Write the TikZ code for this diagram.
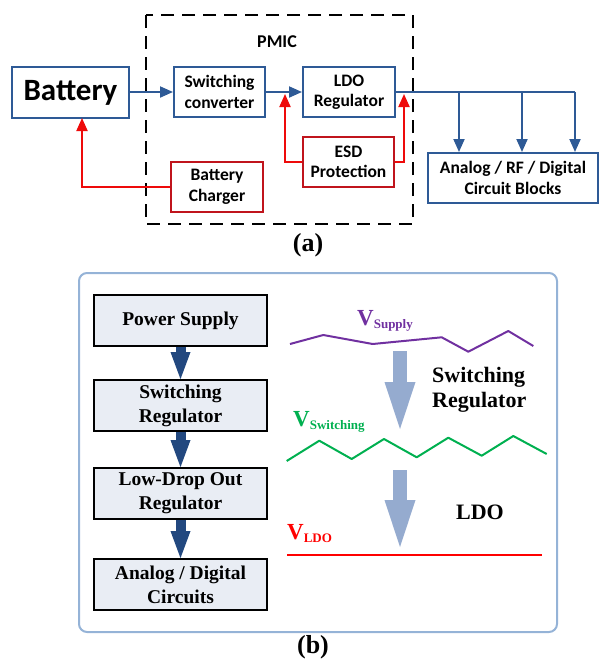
\documentclass[tikz,border=0pt]{standalone}
\usepackage{fontspec}
\setmainfont{Liberation Serif}
\newfontfamily\calfont{Carlito}
\usetikzlibrary{arrows.meta}
\definecolor{tblue}{HTML}{2E5A96}
\definecolor{rboxc}{HTML}{C0141C}
\definecolor{rlinec}{HTML}{EE0A0A}
\definecolor{panel}{HTML}{95B3D7}
\definecolor{boxfill}{HTML}{E9EDF4}
\definecolor{darkb}{HTML}{22487F}
\definecolor{lightb}{HTML}{95ABCF}
\definecolor{purp}{HTML}{7030A0}
\definecolor{grn}{HTML}{00B050}
\definecolor{vred}{HTML}{FF0000}
\begin{document}
\begin{tikzpicture}[x=1pt,y=-1pt,
  tbox/.style={draw=tblue, line width=2pt, fill=white, inner sep=0pt, align=center,
    font=\calfont\bfseries\fontsize{17.5}{20.5}\selectfont, text=black},
  rbox/.style={tbox, draw=rboxc},
  barr/.style={draw=tblue, line width=2pt, -{Triangle[length=13pt,width=11pt]}},
  bline/.style={draw=tblue, line width=2pt},
  rarr/.style={draw=rlinec, line width=2pt, -{Triangle[length=13pt,width=11pt]}},
  bbox/.style={draw=black, line width=1.8pt, fill=boxfill, minimum width=173pt,
    minimum height=51pt, inner sep=0pt, align=center,
    font=\bfseries\fontsize{19.5}{24}\selectfont},
  darr/.style={draw=darkb, line width=10pt, -{Triangle[length=27pt,width=20pt,line width=0pt]}},
  larr/.style={draw=lightb, line width=14pt, -{Triangle[length=47pt,width=31pt,line width=0pt]}},
  lbl/.style={font=\bfseries\fontsize{26}{26}\selectfont, inner sep=0pt},
  rtxt/.style={font=\bfseries\fontsize{22}{25}\selectfont, inner sep=0pt, align=left},
  vlab/.style={anchor=base west, inner sep=0pt}
]
\useasboundingbox (0,0) rectangle (599,659);

% ---------- (a) ----------
\draw[line width=2.8pt, dash pattern=on 13pt off 8pt] (146,15) rectangle (413,224);
\node[font=\calfont\bfseries\fontsize{18}{20}\selectfont, inner sep=0pt] (pmic) at (277,42) {PMIC};

\node[tbox, minimum width=117pt, minimum height=51pt,
  font=\calfont\bfseries\fontsize{31}{31}\selectfont] (bat) at (70.5,92.5) {Battery};
\node[tbox, minimum width=91pt, minimum height=50pt] (sw) at (219.5,92) {Switching\\converter};
\node[tbox, minimum width=92pt, minimum height=50pt] (ldo) at (349,92) {LDO\\Regulator};
\node[rbox, minimum width=91pt, minimum height=50pt] (esd) at (348.5,162) {ESD\\Protection};
\node[rbox, minimum width=92pt, minimum height=50pt] (chg) at (217,187) {Battery\\Charger};
\node[tbox, minimum width=170pt, minimum height=50pt] (out) at (513,178) {Analog / RF / Digital\\Circuit Blocks};

\coordinate (b1) at (459,92);
\coordinate (b2) at (522,92);
\coordinate (b3) at (575,92);
\coordinate (el) at (285,94);
\coordinate (er) at (404,94);
\coordinate (bc) at (82,118);

\draw[barr] (bat.east |- sw.west) -- (sw.west);
\draw[barr] (sw.east) -- (ldo.west);
\draw[bline] (ldo.east) -- (b3);
\draw[barr] (b1) -- (b1 |- out.north);
\draw[barr] (b2) -- (b2 |- out.north);
\draw[barr] (b3) -- (b3 |- out.north);

\draw[rarr] (esd.west) -| (el);
\draw[rarr] (esd.east) -| (er);
\draw[rarr] (chg.west) -| (bc);

\node[lbl] (la) at (308,245) {(a)};

% ---------- (b) ----------
\draw[draw=panel, line width=2pt, rounded corners=8pt] (79,273) rectangle (557,632);

\node[bbox] (ps) at (180.5,320.5) {Power Supply};
\node[bbox] (sr) at (180.5,405.5) {Switching\\Regulator};
\node[bbox] (lr) at (180.5,493.5) {Low-Drop Out\\Regulator};
\node[bbox] (ad) at (180.5,584.5) {Analog / Digital\\Circuits};

\draw[darr] (ps.south) -- (sr.north);
\draw[darr] (sr.south) -- (lr.north);
\draw[darr] (lr.south) -- (ad.north);

% waveforms
\draw[purp, line width=2pt, line join=round] (290,344) -- (323.3,335) -- (372.7,344) -- (441.7,337.3)
  -- (468.3,351.7) -- (508.3,331) -- (533.3,346);
\draw[grn, line width=2pt, line join=round] (286.7,461) -- (319.3,440.7) -- (351.7,459) -- (384,439)
  -- (416.7,457.3) -- (448.3,437.7) -- (481.7,455.7) -- (513.3,436) -- (546.7,454);
\draw[vred, line width=2pt] (287,555) -- (542,555);

\node[vlab, text=purp] (vs) at (357,325) {\bfseries\fontsize{23}{23}\selectfont V\raisebox{-3pt}{\fontsize{13}{13}\selectfont Supply}};
\node[vlab, text=grn] (vw) at (293,426) {\bfseries\fontsize{23}{23}\selectfont V\raisebox{-3pt}{\fontsize{13}{13}\selectfont Switching}};
\node[vlab, text=vred] (vl) at (287,539) {\bfseries\fontsize{23}{23}\selectfont V\raisebox{-3pt}{\fontsize{13}{13}\selectfont LDO}};

\draw[larr] (400,351) -- (400,429);
\draw[larr] (400,470) -- (400,547);

\node[rtxt, anchor=west] (swr) at (432,390) {Switching\\Regulator};
\node[rtxt] (ldot) at (480,512) {LDO};

\node[lbl] (lb) at (313,647) {(b)};
\end{tikzpicture}
\end{document}
